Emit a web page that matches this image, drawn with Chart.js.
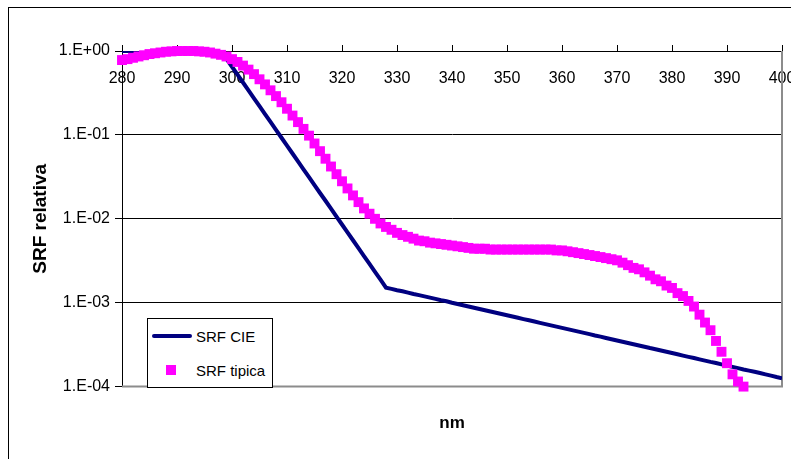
<!DOCTYPE html>
<html lang="it">

<head>
  <meta charset="UTF-8">
  <title>SRF relativa</title>
  <script src="https://cdn.jsdelivr.net/npm/chart.js"></script>
  <style>
    body { margin: 0; overflow: hidden; background: #fff; }
    #wrap { position: relative; width: 791px; height: 459px; }
    #legend {
      position: absolute; left: 147px; top: 318px; width: 124px; height: 68px;
      border: 1px solid #000; background: #fff;
      font: 15px "Liberation Sans", Arial, sans-serif; color: #000;
    }
    .row { position: absolute; left: 0; width: 124px; height: 34px; }
    .row span.txt { position: absolute; left: 48px; top: 50%; transform: translateY(-50%); white-space: nowrap; }
    .sw-line { position: absolute; left: 4px; top: 15px; width: 40px; height: 4px; border-radius: 2px; }
    .sw-rect { position: absolute; left: 18px; top: 12px; width: 10px; height: 10px; }
  </style>
</head>

<body>
  <div id="wrap">
    <canvas id="srfChart" width="791" height="459"></canvas>
    <div id="legend"></div>
  </div>

  <script>
    // wavelength (nm)
    var nm = [280, 281, 282, 283, 284, 285, 286, 287, 288, 289,
      290, 291, 292, 293, 294, 295, 296, 297, 298, 299,
      300, 301, 302, 303, 304, 305, 306, 307, 308, 309,
      310, 311, 312, 313, 314, 315, 316, 317, 318, 319,
      320, 321, 322, 323, 324, 325, 326, 327, 328, 329,
      330, 331, 332, 333, 334, 335, 336, 337, 338, 339,
      340, 341, 342, 343, 344, 345, 346, 347, 348, 349,
      350, 351, 352, 353, 354, 355, 356, 357, 358, 359,
      360, 361, 362, 363, 364, 365, 366, 367, 368, 369,
      370, 371, 372, 373, 374, 375, 376, 377, 378, 379,
      380, 381, 382, 383, 384, 385, 386, 387, 388, 389,
      390, 391, 392, 393, 394, 395, 396, 397, 398, 399, 400];

    // SRF CIE, 280..400 nm
    var srfCIE = [1, 1, 1, 1, 1, 1, 1, 1, 1, 1,
      1, 1, 1, 1, 1, 1, 1, 1, 1, 0.805,
      0.649, 0.522, 0.421, 0.339, 0.273, 0.220, 0.177, 0.143, 0.115, 0.0925,
      0.0745, 0.0600, 0.0483, 0.0389, 0.0313, 0.0252, 0.0203, 0.0164, 0.0132, 0.0106,
      0.00855, 0.00689, 0.00555, 0.00447, 0.00360, 0.00290, 0.00233, 0.00188, 0.00151, 0.00146,
      0.00141, 0.00137, 0.00132, 0.00127, 0.00123, 0.00119, 0.00115, 0.00111, 0.00107, 0.00104,
      0.00100, 0.000966, 0.000933, 0.000902, 0.000871, 0.000841, 0.000813, 0.000785, 0.000759, 0.000733,
      0.000708, 0.000684, 0.000661, 0.000638, 0.000617, 0.000596, 0.000575, 0.000556, 0.000537, 0.000519,
      0.000501, 0.000484, 0.000468, 0.000452, 0.000437, 0.000422, 0.000407, 0.000394, 0.000380, 0.000367,
      0.000355, 0.000343, 0.000331, 0.000320, 0.000309, 0.000299, 0.000288, 0.000279, 0.000269, 0.000260,
      0.000251, 0.000243, 0.000234, 0.000226, 0.000219, 0.000211, 0.000204, 0.000197, 0.000191, 0.000184,
      0.000178, 0.000172, 0.000166, 0.000160, 0.000155, 0.000150, 0.000145, 0.000140, 0.000135, 0.000130, 0.000126];

    // SRF tipica, 280..393 nm
    var srfTipica = [0.78, 0.80, 0.83, 0.86, 0.89, 0.92, 0.94, 0.96, 0.98, 0.99,
      1.0, 1.0, 1.0, 1.0, 0.99, 0.98, 0.96, 0.93, 0.90, 0.86,
      0.80, 0.74, 0.67, 0.60, 0.53, 0.46, 0.40, 0.34, 0.29, 0.245,
      0.205, 0.17, 0.142, 0.118, 0.098, 0.079, 0.064, 0.052, 0.042, 0.034,
      0.028, 0.023, 0.019, 0.0158, 0.0133, 0.0115, 0.0100, 0.0088, 0.0080, 0.0074,
      0.0068, 0.0064, 0.0061, 0.0058, 0.0055, 0.0054, 0.0052, 0.0051, 0.0050, 0.0049,
      0.0048, 0.0047, 0.0046, 0.0045, 0.0044, 0.0044, 0.0044, 0.0043, 0.0043, 0.0043,
      0.0043, 0.0043, 0.0043, 0.0043, 0.0043, 0.0043, 0.0043, 0.0043, 0.0043, 0.0042,
      0.0042, 0.0041, 0.0040, 0.0039, 0.0038, 0.0037, 0.0036, 0.0035, 0.0034, 0.0033,
      0.0032, 0.0030, 0.0028, 0.0026, 0.0025, 0.0023, 0.0021, 0.0019, 0.0018, 0.0016,
      0.0015, 0.0013, 0.0012, 0.00105, 0.00090, 0.00072, 0.00058, 0.00047, 0.00035, 0.00026,
      0.00019, 0.00014, 0.000115, 0.0001];

    var yTicks = [1, 0.1, 0.01, 0.001, 0.0001];
    var yTickLabels = ['1.E+00', '1.E-01', '1.E-02', '1.E-03', '1.E-04'];

    Chart.defaults.font.family = '"Liberation Sans", Arial, sans-serif';
    Chart.defaults.color = '#000';

    // outer frame and gray plot border
    var framePlugin = {
      id: 'frame',
      beforeDraw: function (chart) {
        var c = chart.ctx;
        c.save();
        c.fillStyle = '#fff';
        c.fillRect(0, 0, chart.width, chart.height);
        c.strokeStyle = '#000';
        c.lineWidth = 1;
        c.strokeRect(8.5, 7.5, 900, 600);
        c.restore();
      },
      beforeDatasetsDraw: function (chart) {
        var a = chart.chartArea, c = chart.ctx;
        c.save();
        c.strokeStyle = '#8c8c8c';
        c.lineWidth = 2;
        c.beginPath();
        c.moveTo(a.left, a.bottom);
        c.lineTo(a.right, a.bottom);
        c.lineTo(a.right, a.top);
        c.stroke();
        c.restore();
      }
    };

    // let the end labels hang over the plot edges like the original
    function noSidePadding(s) {
      s.paddingLeft = 0;
      s.paddingRight = 0;
    }

    var ctx = document.getElementById('srfChart').getContext('2d');
    var chart = new Chart(ctx, {
      type: 'line',
      data: {
        datasets: [{
          label: 'SRF CIE',
          data: srfCIE.map(function (v, i) { return { x: nm[i], y: v }; }),
          borderColor: '#000080',
          backgroundColor: '#000080',
          borderWidth: 4,
          pointRadius: 0,
          tension: 0,
          order: 2
        }, {
          label: 'SRF tipica',
          data: srfTipica.map(function (v, i) { return { x: nm[i], y: v }; }),
          showLine: false,
          pointStyle: 'rect',
          pointRadius: 7,
          pointBorderWidth: 0,
          backgroundColor: '#ff00ff',
          borderColor: '#ff00ff',
          clip: false,
          order: 1
        }]
      },
      options: {
        responsive: false,
        animation: false,
        devicePixelRatio: 1,
        layout: { padding: { left: 0, right: 9, top: 45, bottom: 0 } },
        plugins: {
          legend: { display: false },
          tooltip: { enabled: false },
          title: {
            display: true,
            text: 'nm',
            position: 'bottom',
            fullSize: false,
            font: { size: 17, weight: 'bold' },
            color: '#000',
            padding: { top: 27, bottom: 25 }
          }
        },
        scales: {
          x: {
            type: 'linear',
            min: 280,
            max: 400,
            position: { y: 1 },
            afterFit: noSidePadding,
            ticks: { stepSize: 10, font: { size: 16 }, padding: 18, color: '#000', maxRotation: 0 },
            grid: { drawOnChartArea: false, drawTicks: false },
            border: { color: '#000', width: 1 }
          },
          xTop: {
            type: 'linear',
            axis: 'x',
            min: 280,
            max: 400,
            position: 'top',
            afterFit: noSidePadding,
            ticks: { stepSize: 10, display: false },
            grid: { drawOnChartArea: false, tickLength: 6, color: '#000' },
            border: { display: false }
          },
          y: {
            type: 'logarithmic',
            min: 0.0001,
            max: 1,
            afterBuildTicks: function (s) {
              s.ticks = yTicks.map(function (v) { return { value: v, major: true }; });
            },
            afterFit: function (s) {
              s.width = 122;
              s.paddingTop = 0;
              s.paddingBottom = 0;
            },
            ticks: {
              font: { size: 16 },
              padding: 5,
              color: '#000',
              callback: function (v) {
                var i = yTicks.indexOf(v);
                return i >= 0 ? yTickLabels[i] : '';
              }
            },
            grid: {
              color: function (c) { return c.tick && c.tick.value === 0.0001 ? 'rgba(0,0,0,0)' : '#000'; },
              tickColor: '#000',
              tickLength: 7,
              lineWidth: 1
            },
            border: { color: '#000', width: 1 },
            title: {
              display: true,
              text: 'SRF relativa',
              font: { size: 19, weight: 'bold' },
              color: '#000',
              padding: { top: 29, bottom: 0 }
            }
          }
        }
      },
      plugins: [framePlugin]
    });

    // legend box built from the datasets
    var legendEl = document.getElementById('legend');
    chart.data.datasets.forEach(function (ds, i) {
      var row = document.createElement('div');
      row.className = 'row';
      row.style.top = (i * 34) + 'px';
      var sw = document.createElement('div');
      sw.className = ds.showLine === false ? 'sw-rect' : 'sw-line';
      sw.style.background = ds.backgroundColor;
      var txt = document.createElement('span');
      txt.className = 'txt';
      txt.textContent = ds.label;
      row.appendChild(sw);
      row.appendChild(txt);
      legendEl.appendChild(row);
    });
  </script>
</body>

</html>
